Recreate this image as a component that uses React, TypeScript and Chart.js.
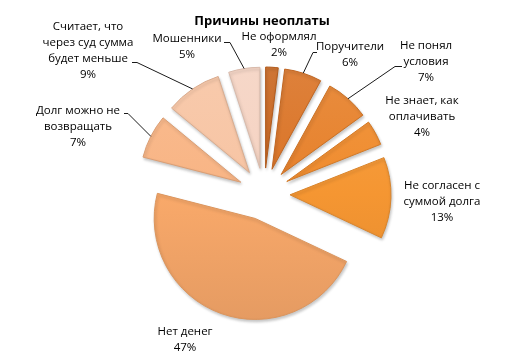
import React, { useEffect, useRef } from "react";
import { Chart, registerables } from "chart.js";

Chart.register(...registerables);

// ---------- data ----------
const TITLE = "Причины неоплаты";
const categories = [
  "Не оформлял",
  "Поручители",
  "Не понял условия",
  "Не знает, как оплачивать",
  "Не согласен с суммой долга",
  "Нет денег",
  "Долг можно не возвращать",
  "Считает, что через суд сумма будет меньше",
  "Мошенники",
];
const labelLines = [
  ["Не оформлял"],
  ["Поручители"],
  ["Не понял", "условия"],
  ["Не знает, как", "оплачивать"],
  ["Не согласен с", "суммой долга"],
  ["Нет денег"],
  ["Долг можно не", "возвращать"],
  ["Считает, что", "через суд сумма", "будет меньше"],
  ["Мошенники"],
];
const values = [2, 6, 7, 4, 13, 47, 7, 9, 5];

// ---------- styles / layout ----------
const sliceColors = [
  "#C9661F",
  "#DA7325",
  "#E6802A",
  "#EF8B2D",
  "#F59632",
  "#F9A96A",
  "#F8B484",
  "#F7C4A3",
  "#F5D3C2",
];
const W = 527;
const H = 359;
const RADIUS = 101;
const EXPLODE = 26;
const FONT = "'Open Sans', 'Noto Sans', sans-serif";
const LINE_H = 16;
// label text block: center x, first-line center y
const labelPos = [
  { x: 279, y: 37 },
  { x: 350, y: 47 },
  { x: 426, y: 46 },
  { x: 422, y: 101 },
  { x: 442, y: 186 },
  { x: 185, y: 332 },
  { x: 78, y: 111 },
  { x: 88, y: 27 },
  { x: 187, y: 39 },
];
// leader: [tail near text, elbow] -> then to slice rim
const leaders: (number[][] | null)[] = [
  null,
  [[317, 52], [313, 52]],
  [[402, 66], [395, 66]],
  null,
  null,
  null,
  [[124, 113], [128, 113]],
  [[132, 62], [137, 62]],
  [[224, 42], [230, 42]],
];

function shade(hex: string, amt: number) {
  const n = parseInt(hex.slice(1), 16);
  let r = n >> 16, g = (n >> 8) & 255, b = n & 255;
  if (amt >= 0) {
    r += (255 - r) * amt; g += (255 - g) * amt; b += (255 - b) * amt;
  } else {
    r *= 1 + amt; g *= 1 + amt; b *= 1 + amt;
  }
  return `rgb(${Math.round(r)},${Math.round(g)},${Math.round(b)})`;
}

const explodePlugin = {
  id: "explode",
  beforeDatasetDraw(chart: any, args: any) {
    chart.getDatasetMeta(args.index).data.forEach((el: any) => {
      const mid = (el.startAngle + el.endAngle) / 2;
      el.x += Math.cos(mid) * EXPLODE;
      el.y += Math.sin(mid) * EXPLODE;
    });
  },
  afterDatasetDraw(chart: any, args: any) {
    chart.getDatasetMeta(args.index).data.forEach((el: any) => {
      const mid = (el.startAngle + el.endAngle) / 2;
      el.x -= Math.cos(mid) * EXPLODE;
      el.y -= Math.sin(mid) * EXPLODE;
    });
  },
};

const shadowPlugin = {
  id: "sliceShadow",
  beforeDatasetsDraw(chart: any) {
    const ctx = chart.ctx;
    ctx.save();
    ctx.shadowColor = "rgba(0,0,0,0.22)";
    ctx.shadowBlur = 3;
    ctx.shadowOffsetX = 1;
    ctx.shadowOffsetY = 2;
  },
  afterDatasetsDraw(chart: any) {
    chart.ctx.restore();
  },
};

const labelsPlugin = {
  id: "pieLabels",
  afterDraw(chart: any) {
    const ctx = chart.ctx;
    const total = values.reduce((a, b) => a + b, 0);
    ctx.save();
    // title
    ctx.fillStyle = "#000";
    ctx.textAlign = "center";
    ctx.textBaseline = "middle";
    ctx.font = `bold 13px ${FONT}`;
    ctx.fillText(TITLE, 262, 21);

    ctx.font = `11.5px ${FONT}`;
    ctx.fillStyle = "#000";
    const meta = chart.getDatasetMeta(0);
    meta.data.forEach((el: any, i: number) => {
      const lines = [...labelLines[i], Math.round((values[i] / total) * 100) + "%"];
      const p = labelPos[i];
      lines.forEach((t, k) => ctx.fillText(t, p.x, p.y + k * LINE_H));
      const ld = leaders[i];
      if (ld) {
        const mid = (el.startAngle + el.endAngle) / 2;
        const cx = el.x + Math.cos(mid) * EXPLODE;
        const cy = el.y + Math.sin(mid) * EXPLODE;
        const rx = cx + Math.cos(mid) * el.outerRadius;
        const ry = cy + Math.sin(mid) * el.outerRadius;
        ctx.beginPath();
        ctx.strokeStyle = "#1a1a1a";
        ctx.lineWidth = 1;
        ctx.moveTo(ld[0][0], ld[0][1] + 0.5);
        ctx.lineTo(ld[1][0], ld[1][1] + 0.5);
        ctx.lineTo(rx, ry);
        ctx.stroke();
      }
    });
    ctx.restore();
  },
};

export default function App() {
  const ref = useRef<HTMLCanvasElement>(null);
  useEffect(() => {
    const chart = new Chart(ref.current as HTMLCanvasElement, {
      type: "pie",
      data: {
        labels: categories,
        datasets: [
          {
            data: values,
            backgroundColor: (c: any) => {
              const col = sliceColors[c.dataIndex];
              const a = c.chart.chartArea;
              if (!a) return col;
              const cy = (a.top + a.bottom) / 2;
              const g = c.chart.ctx.createLinearGradient(0, cy - RADIUS - EXPLODE, 0, cy + RADIUS + EXPLODE);
              g.addColorStop(0, shade(col, 0.1));
              g.addColorStop(0.5, col);
              g.addColorStop(1, shade(col, -0.08));
              return g;
            },
            borderColor: sliceColors.map((c) => shade(c, -0.12)),
            borderWidth: 1,
          },
        ],
      },
      options: {
        responsive: false,
        animation: false,
        events: [],
        radius: RADIUS,
        layout: { padding: { left: 1, right: 0, top: 29, bottom: 0 } },
        plugins: {
          legend: { display: false },
          tooltip: { enabled: false },
          title: { display: false },
        },
      } as any,
      plugins: [explodePlugin, shadowPlugin, labelsPlugin],
    });
    return () => chart.destroy();
  }, []);
  return (
    <div style={{ position: "fixed", left: 0, top: 0, width: W, height: H, background: "#fff" }}>
      <canvas ref={ref} width={W} height={H} style={{ display: "block" }} />
    </div>
  );
}
